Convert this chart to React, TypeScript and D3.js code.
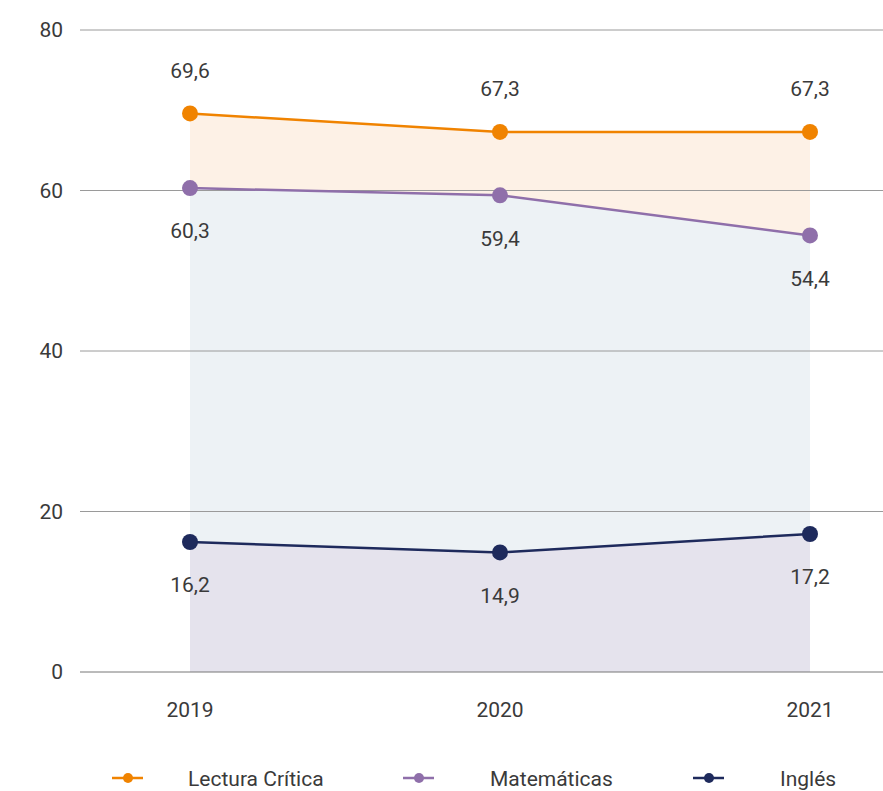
import React from "react";
import * as d3 from "d3";

const years = ["2019", "2020", "2021"];
const lectura = [69.6, 67.3, 67.3];
const matematicas = [60.3, 59.4, 54.4];
const ingles = [16.2, 14.9, 17.2];
const yTicks = [0, 20, 40, 60, 80];
const seriesNames = ["Lectura Crítica", "Matemáticas", "Inglés"];

const W = 883;
const H = 791;
const FONT = "Roboto, 'DejaVu Sans', sans-serif";
const TEXT = "#3a3a3a";

const colors = ["#f08300", "#8f6faa", "#1e2a5c"];
const fills = ["#fdf1e6", "#edf2f5", "#e5e3ed"];

export default function App() {
  const x = d3.scalePoint<string>().domain(years).range([190, 810]);
  const y = d3.scaleLinear().domain([0, 80]).range([672, 30]);

  const series = [lectura, matematicas, ingles];
  const labelPos = [
    [-1, -1, -1],
    [1, 1, 1],
    [1, 1, 1],
  ];

  const area = d3
    .area<number>()
    .x((_, i) => x(years[i]) as number)
    .y0(y(0))
    .y1((d) => y(d));
  const line = d3
    .line<number>()
    .x((_, i) => x(years[i]) as number)
    .y((d) => y(d));

  const legendX = [112, 403, 693];
  const legendTextX = [188, 490, 780];

  return (
    <svg
      width={W}
      height={H}
      style={{ position: "absolute", left: 0, top: 0, background: "#fff" }}
      fontFamily={FONT}
    >
      {series.map((s, i) => (
        <path key={"a" + i} d={area(s) || ""} fill={fills[i]} />
      ))}
      {yTicks.map((t) => (
        <g key={t}>
          <line
            x1={80}
            x2={W}
            y1={y(t)}
            y2={y(t)}
            stroke={t === 0 ? "#777" : "#9a9a9a"}
            strokeWidth={1}
          />
          <text
            x={63}
            y={y(t)}
            dy="0.35em"
            textAnchor="end"
            fontSize={21}
            fill={TEXT}
          >
            {t}
          </text>
        </g>
      ))}
      {years.map((yr) => (
        <text
          key={yr}
          x={x(yr)}
          y={710}
          dy="0.35em"
          textAnchor="middle"
          fontSize={21}
          fill={TEXT}
        >
          {yr}
        </text>
      ))}
      {series.map((s, i) => (
        <g key={"l" + i}>
          <path d={line(s) || ""} fill="none" stroke={colors[i]} strokeWidth={2.5} />
          {s.map((v, j) => (
            <g key={j}>
              <circle cx={x(years[j])} cy={y(v)} r={8} fill={colors[i]} />
              <text
                x={x(years[j])}
                y={y(v) + labelPos[i][j] * 43}
                dy="0.35em"
                textAnchor="middle"
                fontSize={21}
                fill={TEXT}
              >
                {v.toFixed(1).replace(".", ",")}
              </text>
            </g>
          ))}
        </g>
      ))}
      {seriesNames.map((n, i) => (
        <g key={n}>
          <line
            x1={legendX[i]}
            x2={legendX[i] + 31}
            y1={778}
            y2={778}
            stroke={colors[i]}
            strokeWidth={2.5}
          />
          <circle cx={legendX[i] + 16} cy={778} r={5} fill={colors[i]} />
          <text x={legendTextX[i]} y={786} fontSize={21} fill={TEXT}>
            {n}
          </text>
        </g>
      ))}
    </svg>
  );
}
